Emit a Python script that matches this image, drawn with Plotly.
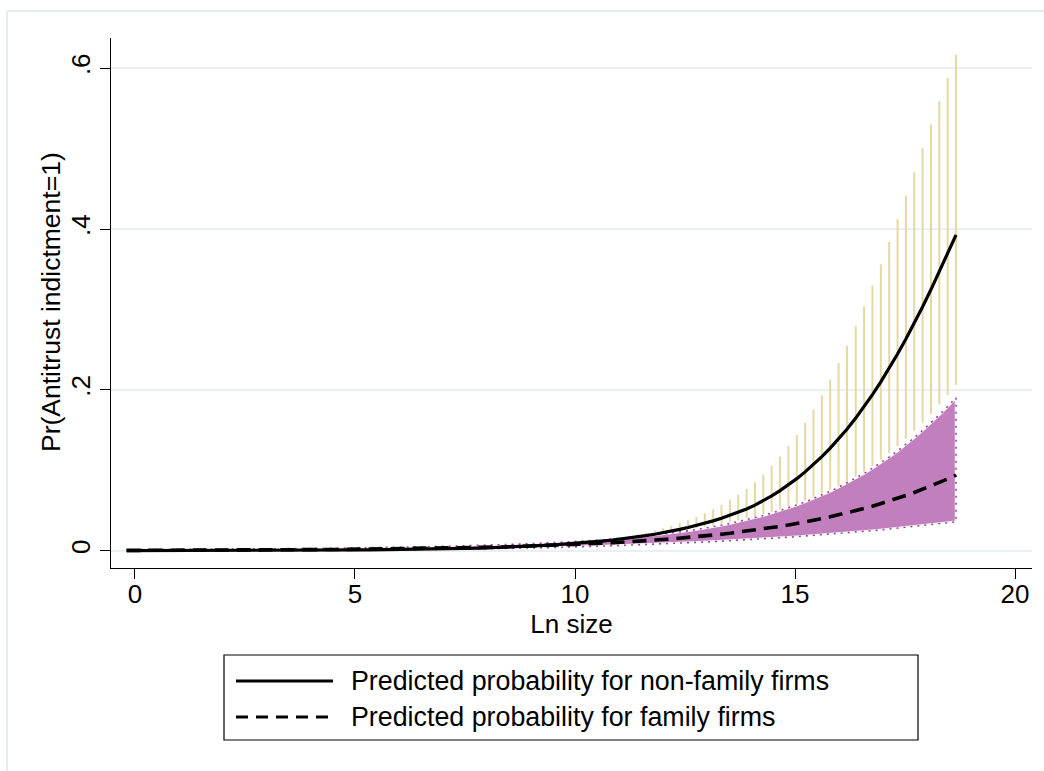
import plotly.graph_objects as go

# Ln size grid (positions of the estimates)
ln_size = [-0.19, 0.00, 0.19, 0.38, 0.57, 0.76, 0.95, 1.14, 1.33, 1.52,
           1.71, 1.90, 2.09, 2.29, 2.48, 2.67, 2.86, 3.05, 3.24, 3.43,
           3.62, 3.81, 4.00, 4.19, 4.38, 4.57, 4.76, 4.95, 5.14, 5.33,
           5.52, 5.71, 5.90, 6.09, 6.28, 6.47, 6.66, 6.85, 7.05, 7.24,
           7.43, 7.62, 7.81, 8.00, 8.19, 8.38, 8.57, 8.76, 8.95, 9.14,
           9.33, 9.52, 9.71, 9.90, 10.09, 10.28, 10.47, 10.66, 10.85, 11.04,
           11.23, 11.42, 11.61, 11.81, 12.00, 12.19, 12.38, 12.57, 12.76, 12.95,
           13.14, 13.33, 13.52, 13.71, 13.90, 14.09, 14.28, 14.47, 14.66, 14.85,
           15.04, 15.23, 15.42, 15.61, 15.80, 15.99, 16.18, 16.38, 16.57, 16.76,
           16.95, 17.14, 17.33, 17.52, 17.71, 17.90, 18.09, 18.28, 18.47, 18.66]

# Non-family firms: predicted probability and CI
p_nonfamily = [.0001, .0001, .0001, .0001, .0001, .0001, .0001, .0002, .0002, .0002,
               .0002, .0002, .0002, .0003, .0003, .0003, .0003, .0004, .0004, .0004,
               .0005, .0005, .0006, .0006, .0007, .0008, .0008, .0009, .0010, .0011,
               .0012, .0013, .0014, .0015, .0016, .0018, .0020, .0021, .0023, .0026,
               .0028, .0030, .0033, .0036, .0039, .0043, .0047, .0051, .0056, .0061,
               .0066, .0072, .0079, .0086, .0094, .0103, .0112, .0122, .0133, .0145,
               .0158, .0172, .0187, .0205, .0223, .0243, .0265, .0288, .0314, .0342,
               .0371, .0404, .0439, .0478, .0519, .0566, .0622, .0682, .0748, .0819,
               .0896, .0980, .1071, .1169, .1275, .1389, .1511, .1649, .1790, .1940,
               .2100, .2269, .2446, .2633, .2829, .3034, .3247, .3466, .3694, .3927]
hi_nonfamily = [.0003, .0003, .0003, .0003, .0003, .0003, .0003, .0005, .0005, .0005,
                .0005, .0005, .0005, .0006, .0006, .0006, .0006, .0008, .0008, .0008,
                .0010, .0010, .0011, .0011, .0013, .0014, .0014, .0016, .0017, .0018,
                .0019, .0021, .0022, .0023, .0024, .0026, .0029, .0030, .0032, .0035,
                .0037, .0039, .0042, .0045, .0049, .0052, .0056, .0060, .0064, .0069,
                .0075, .0081, .0087, .0095, .0103, .0113, .0124, .0137, .0151, .0167,
                .0185, .0204, .0226, .0252, .0279, .0309, .0343, .0380, .0421, .0465,
                .0515, .0570, .0630, .0696, .0769, .0851, .0947, .1055, .1171, .1300,
                .1440, .1591, .1757, .1934, .2127, .2333, .2548, .2793, .3039, .3296,
                .3561, .3839, .4122, .4411, .4706, .5003, .5300, .5590, .5881, .6166]
lo_nonfamily = [.0000, .0000, .0000, .0000, .0000, .0000, .0000, .0001, .0001, .0001,
                .0001, .0001, .0001, .0001, .0001, .0001, .0001, .0002, .0002, .0002,
                .0003, .0003, .0003, .0003, .0004, .0004, .0005, .0005, .0006, .0007,
                .0007, .0008, .0009, .0010, .0011, .0012, .0014, .0015, .0017, .0019,
                .0021, .0023, .0026, .0029, .0032, .0036, .0039, .0044, .0048, .0054,
                .0059, .0065, .0072, .0079, .0086, .0093, .0101, .0109, .0117, .0126,
                .0135, .0145, .0155, .0167, .0178, .0191, .0204, .0218, .0234, .0250,
                .0267, .0285, .0305, .0326, .0348, .0373, .0403, .0434, .0469, .0506,
                .0545, .0587, .0632, .0681, .0733, .0789, .0848, .0915, .0982, .1055,
                .1133, .1214, .1300, .1393, .1491, .1594, .1702, .1817, .1937, .2063]

# Family firms: predicted probability and CI
p_family = [.0004, .0004, .0004, .0004, .0005, .0005, .0005, .0005, .0006, .0006,
            .0006, .0007, .0007, .0008, .0008, .0009, .0009, .0010, .0010, .0011,
            .0011, .0012, .0013, .0013, .0014, .0015, .0016, .0017, .0018, .0019,
            .0020, .0021, .0023, .0024, .0025, .0027, .0028, .0030, .0032, .0034,
            .0036, .0038, .0040, .0042, .0045, .0047, .0050, .0053, .0056, .0059,
            .0063, .0066, .0070, .0074, .0079, .0083, .0088, .0093, .0099, .0104,
            .0110, .0117, .0124, .0131, .0139, .0147, .0155, .0164, .0174, .0184,
            .0194, .0205, .0217, .0230, .0243, .0257, .0271, .0287, .0303, .0320,
            .0338, .0357, .0378, .0399, .0421, .0445, .0470, .0497, .0525, .0554,
            .0585, .0617, .0651, .0686, .0724, .0763, .0804, .0847, .0892, .0940]
hi_family = [.0012, .0012, .0012, .0012, .0014, .0014, .0014, .0014, .0016, .0016,
             .0016, .0018, .0018, .0020, .0020, .0022, .0022, .0024, .0024, .0025,
             .0025, .0027, .0028, .0028, .0029, .0031, .0033, .0034, .0036, .0037,
             .0038, .0040, .0043, .0044, .0045, .0048, .0049, .0052, .0055, .0057,
             .0060, .0062, .0065, .0068, .0071, .0075, .0078, .0082, .0086, .0090,
             .0095, .0100, .0105, .0111, .0117, .0123, .0130, .0137, .0145, .0153,
             .0162, .0172, .0182, .0194, .0205, .0218, .0232, .0247, .0263, .0279,
             .0298, .0317, .0338, .0361, .0385, .0410, .0438, .0467, .0499, .0532,
             .0569, .0607, .0648, .0692, .0738, .0789, .0842, .0902, .0961, .1026,
             .1093, .1165, .1241, .1322, .1406, .1497, .1591, .1690, .1795, .1903]
lo_family = [.0001, .0001, .0001, .0001, .0001, .0002, .0002, .0002, .0002, .0002,
             .0002, .0002, .0002, .0003, .0003, .0003, .0003, .0003, .0004, .0004,
             .0004, .0004, .0005, .0005, .0005, .0006, .0007, .0007, .0008, .0008,
             .0009, .0009, .0011, .0011, .0012, .0013, .0014, .0015, .0016, .0018,
             .0019, .0020, .0022, .0023, .0025, .0027, .0029, .0031, .0033, .0035,
             .0037, .0040, .0042, .0045, .0048, .0051, .0054, .0058, .0061, .0065,
             .0068, .0072, .0076, .0080, .0085, .0089, .0094, .0098, .0103, .0108,
             .0113, .0119, .0124, .0130, .0136, .0142, .0148, .0154, .0161, .0168,
             .0175, .0182, .0189, .0197, .0205, .0213, .0222, .0231, .0240, .0249,
             .0259, .0269, .0279, .0289, .0300, .0311, .0323, .0335, .0348, .0360]

x_ticks = [0, 5, 10, 15, 20]
x_ticktext = ["0", "5", "10", "15", "20"]
y_ticks = [0, 0.2, 0.4, 0.6]
y_ticktext = ["0", ".2", ".4", ".6"]
x_title = "Ln size"
y_title = "Pr(Antitrust indictment=1)"
legend_labels = ["Predicted probability for non-family firms",
                 "Predicted probability for family firms"]

FONT = "Liberation Sans, Arial, Helvetica, sans-serif"
TAN = "#e6d8a2"
PURPLE_FILL = "#c17fbd"
PURPLE_LINE = "#a03fa3"

fig = go.Figure()

# CI spikes for non-family firms
fig.add_trace(go.Scatter(
    x=ln_size, y=p_nonfamily, mode="markers",
    marker=dict(size=1, opacity=0),
    error_y=dict(type="data", symmetric=False,
                 array=[h - p for h, p in zip(hi_nonfamily, p_nonfamily)],
                 arrayminus=[p - l for p, l in zip(p_nonfamily, lo_nonfamily)],
                 width=0, thickness=2, color=TAN),
    showlegend=False, hoverinfo="skip"))

# CI area for family firms
poly_x = ln_size + ln_size[::-1]
poly_y = hi_family + lo_family[::-1]
fig.add_trace(go.Scatter(
    x=poly_x, y=poly_y, mode="lines", fill="toself",
    fillcolor=PURPLE_FILL, line=dict(color="white", width=2.5),
    showlegend=False, hoverinfo="skip"))
fig.add_trace(go.Scatter(
    x=poly_x, y=poly_y, mode="lines",
    line=dict(color=PURPLE_LINE, width=1.6, dash="2px,5px"),
    showlegend=False, hoverinfo="skip"))

# Predicted probabilities
fig.add_trace(go.Scatter(
    x=ln_size, y=p_nonfamily, mode="lines",
    line=dict(color="black", width=3.2),
    name=legend_labels[0], showlegend=False))
fig.add_trace(go.Scatter(
    x=ln_size, y=p_family, mode="lines",
    line=dict(color="black", width=3.6, dash="14px,8px"),
    name=legend_labels[1], showlegend=False))

# geometry helpers (pixel -> paper)
L, R, T, B = 111, 12, 38, 203
W, H = 1044, 771
PW, PH = W - L - R, H - T - B


def px(xp):
    return (xp - L) / PW


def py(yp):
    return (H - B - yp) / PH


shapes = [
    # outer graph-region border (light)
    dict(type="line", xref="paper", yref="paper", x0=px(7), x1=px(1050),
         y0=py(11), y1=py(11), line=dict(color="#e4edf0", width=2)),
    dict(type="line", xref="paper", yref="paper", x0=px(7), x1=px(7),
         y0=py(11), y1=py(780), line=dict(color="#e4edf0", width=2)),
    # legend box
    dict(type="rect", xref="paper", yref="paper", x0=px(224), x1=px(918),
         y0=py(740), y1=py(655), line=dict(color="black", width=1.2),
         fillcolor="white"),
    dict(type="line", xref="paper", yref="paper", x0=px(236), x1=px(333),
         y0=py(681), y1=py(681), line=dict(color="black", width=3.2)),
    dict(type="line", xref="paper", yref="paper", x0=px(236), x1=px(333),
         y0=py(717), y1=py(717), line=dict(color="black", width=3.2, dash="12px,8px")),
]
annotations = [
    dict(xref="paper", yref="paper", x=px(349), y=py(681), text=legend_labels[0],
         showarrow=False, xanchor="left", yanchor="middle",
         font=dict(family=FONT, size=26.8, color="black")),
    dict(xref="paper", yref="paper", x=px(349), y=py(717), text=legend_labels[1],
         showarrow=False, xanchor="left", yanchor="middle",
         font=dict(family=FONT, size=26.8, color="black")),
    # y axis title
    dict(xref="paper", yref="paper", x=px(51), y=py(302), text=y_title,
         showarrow=False, xanchor="center", yanchor="middle", textangle=-90,
         font=dict(family=FONT, size=26.5, color="black")),
]

fig.update_layout(
    width=W, height=H,
    margin=dict(l=L, r=R, t=T, b=B, pad=0),
    paper_bgcolor="white", plot_bgcolor="white",
    font=dict(family=FONT, size=26, color="black"),
    shapes=shapes, annotations=annotations,
    showlegend=False,
    xaxis=dict(range=[-0.545, 20.386], tickvals=x_ticks, ticktext=x_ticktext,
               showline=True, linecolor="black", linewidth=1.2,
               ticks="outside", ticklen=10, tickwidth=1.2, tickcolor="black",
               showgrid=False, zeroline=False,
               tickfont=dict(size=26), ticklabelstandoff=-7,
               title=dict(text=x_title, font=dict(size=26), standoff=4)),
    yaxis=dict(range=[-0.0215, 0.6375], tickvals=y_ticks, ticktext=y_ticktext,
               tickangle=-90,
               showline=True, linecolor="black", linewidth=1.2,
               ticks="outside", ticklen=10, tickwidth=1.2, tickcolor="black",
               showgrid=True, gridcolor="#e8f0f2", gridwidth=2, zeroline=False,
               tickfont=dict(size=26)),
)

fig.write_html("out.html",
               config={"displayModeBar": False},
               post_script="document.body.style.margin='0px';"
                           "document.body.style.overflow='hidden';")
